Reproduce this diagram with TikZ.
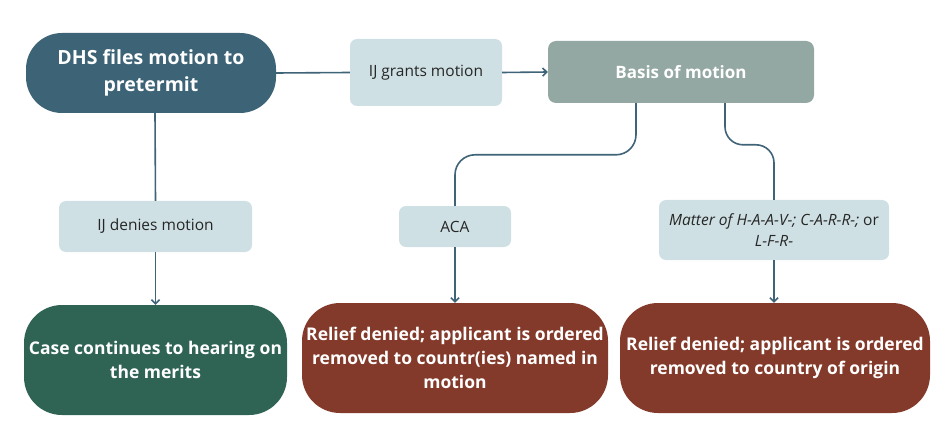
\documentclass[tikz,border=0pt]{standalone}
\usepackage{fontspec}
\setmainfont{Open Sans}
\usepackage{xcolor}
\usetikzlibrary{arrows.meta}

\definecolor{dhsblue}{HTML}{3D6376}
\definecolor{stepfill}{HTML}{CEE0E4}
\definecolor{basisgrey}{HTML}{93A8A2}
\definecolor{meritgreen}{HTML}{2F6455}
\definecolor{removalred}{HTML}{843A2A}
\definecolor{linkcol}{HTML}{3F6477}

\begin{document}
\begin{tikzpicture}[
  x=1pt, y=-1pt,
  >={Straight Barb[length=4pt,width=8pt]},
  every node/.style={font=\fontsize{15.5}{21}\selectfont, inner sep=0pt, align=center},
  filing/.style={rounded corners=36pt, fill=dhsblue, text=white,
    font=\fontsize{19.5}{27}\selectfont\bfseries, minimum width=250pt, minimum height=80pt},
  ruling/.style={rounded corners=7pt, fill=stepfill, text=black!85},
  basis/.style={rounded corners=8pt, fill=basisgrey, text=white,
    font=\fontsize{17}{22}\selectfont\bfseries, minimum width=266pt, minimum height=62pt},
  outcome/.style={rounded corners=38pt, text=white,
    font=\fontsize{17.5}{24}\selectfont\bfseries, minimum height=110pt},
  link/.style={draw=linkcol, line width=1.6pt}
]
  \useasboundingbox (0,0) rectangle (951,433);

  \node[filing] (dhs) at (151, 73) {DHS files motion to\\pretermit};
  \node[ruling, minimum width=152pt, minimum height=67pt] (grants) at (426, 72.5) {IJ grants motion};
  \node[basis] (basis) at (681, 72) {Basis of motion};

  \node[ruling, minimum width=193pt, minimum height=51pt] (denies) at (155.5, 226.5) {IJ denies motion};
  \node[ruling, minimum width=112pt, minimum height=41pt] (aca) at (455, 226.5) {ACA};
  \node[ruling, minimum width=230pt, minimum height=60pt]
    (matter) at (774, 230) {\itshape Matter of H-A-A-V-; C-A-R-R-;\upshape{} or\\\itshape L-F-R-};

  \node[outcome, fill=meritgreen, minimum width=263pt] (merits) at (155.5, 360)
    {Case continues to hearing on\\the merits};
  \node[outcome, fill=removalred, minimum width=306pt] (named) at (455, 358)
    {Relief denied; applicant is ordered\\removed to countr(ies) named in\\motion};
  \node[outcome, fill=removalred, minimum width=310pt] (origin) at (775, 358)
    {Relief denied; applicant is ordered\\removed to country of origin};

  \draw[link] (dhs.east) -- (grants.west);
  \draw[link, ->] (grants.east) -- (basis.west);
  \draw[link] ([xshift=4pt]dhs.south) -- (denies.north);
  \draw[link, ->] (denies.south) -- (merits.north);
  \draw[link, rounded corners=20pt] ([xshift=-45pt]basis.south) |- ([yshift=51pt]aca.north) -- (aca.north);
  \draw[link, ->] (aca.south) -- (named.north);
  \draw[link, rounded corners=18pt] ([xshift=44pt]basis.south) |- ([yshift=55pt]matter.north) -- (matter.north);
  \draw[link, ->] (matter.south) -- (matter.south |- origin.north);
\end{tikzpicture}
\end{document}
